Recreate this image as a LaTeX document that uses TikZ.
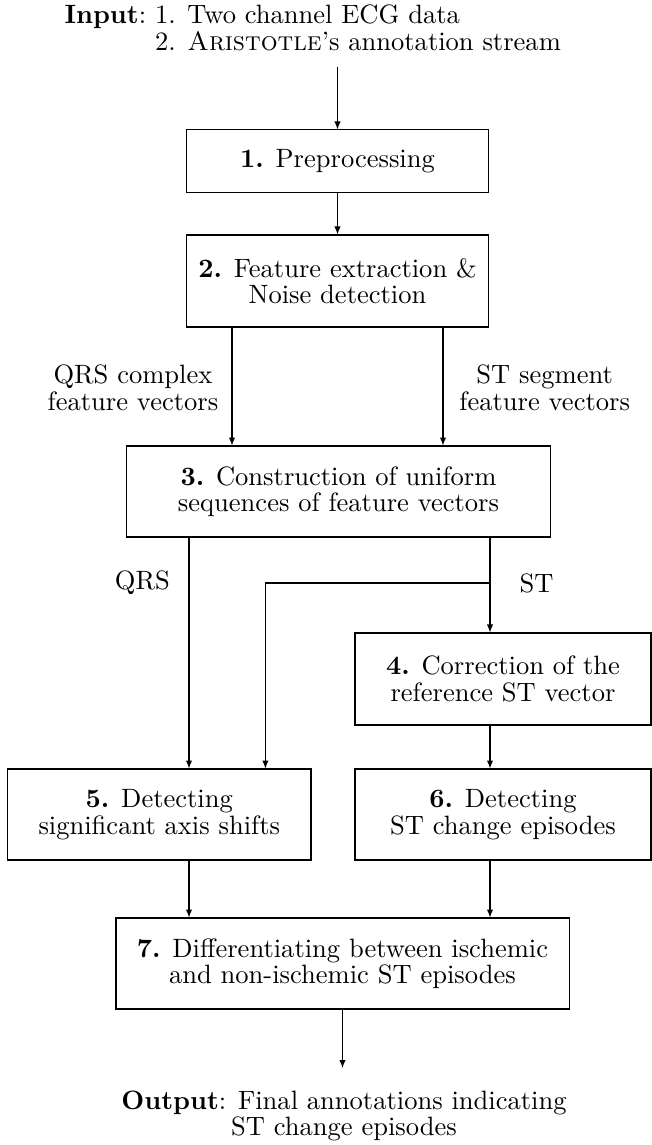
\documentclass[tikz,border=0pt]{standalone}
\usepackage{tikz}
\usetikzlibrary{arrows.meta,positioning}

\begin{document}
\begin{tikzpicture}[x=0.377pt,y=-0.377pt,
  every node/.style={font=\fontsize{10}{10}\selectfont},
  stepbox/.style={draw,align=center,inner sep=0pt},
  lbl/.style={align=center,inner sep=0pt},
  arr/.style={-{Latex[length=3pt,width=2.4pt]}}]
\useasboundingbox (0,0) rectangle (652,1145);

% 输入
\node[anchor=north west,inner sep=0pt] (input) at (64,4) {\begin{tabular}{@{}l@{\ }l@{}}
\textbf{Input}: & 1. Two channel ECG data\\
 & 2. \textsc{Aristotle}'s annotation stream
\end{tabular}};

% 处理步骤
\node[stepbox,minimum width=114.2pt,minimum height=23.4pt] (prep) at (337.5,161) {\textbf{1.} Preprocessing};
\node[stepbox,minimum width=114.2pt,minimum height=34.7pt] (feat) at (337.5,281) {\textbf{2.} Feature extraction \&\\ Noise detection};
\node[stepbox,minimum width=159.5pt,minimum height=34.3pt] (seq) at (338.5,491.5) {\textbf{3.} Construction of uniform\\ sequences of feature vectors};
\node[stepbox,minimum width=111.6pt,minimum height=34.7pt] (corr) at (503,679) {\textbf{4.} Correction of the\\ reference ST vector};
\node[stepbox,minimum width=114.4pt,minimum height=34.3pt] (axis) at (159.3,814.5) {\textbf{5.} Detecting\\ significant axis shifts};
\node[stepbox,minimum width=111.6pt,minimum height=34.3pt] (episode) at (503,814.5) {\textbf{6.} Detecting\\ ST change episodes};
\node[stepbox,minimum width=170.8pt,minimum height=34.3pt] (diff) at (342.5,963.5) {\textbf{7.} Differentiating between ischemic\\ and non-ischemic ST episodes};

% 输出
\node[lbl,anchor=north] (output) at (344,1090) {\textbf{Output}: Final annotations indicating\\ ST change episodes};

% 分支点
\coordinate (cqrs) at (232,388);
\coordinate (cst) at (443,388);
\coordinate (qrs) at (189,583);
\coordinate (st) at (490,583);

% 连接线
\draw[arr,shorten <=3pt] (prep.north |- input.south) -- (prep.north);
\draw[arr] (prep) -- (feat);
\draw[arr] (feat.south -| cqrs) -- (seq.north -| cqrs);
\draw[arr] (feat.south -| cst) -- (seq.north -| cst);
\draw[arr] (seq.south -| qrs) -- (axis.north -| qrs);
\draw (seq.south -| st) -- (st);
\draw[arr] (st) -- (corr.north -| st);
\draw[arr] (st) -| ([xshift=40pt]axis.north);
\draw[arr] (corr.south -| st) -- (episode.north -| st);
\draw[arr] (axis.south -| qrs) -- (diff.north -| qrs);
\draw[arr] (episode.south -| st) -- (diff.north -| st);
\draw[arr,shorten >=8.3pt] (diff.south) -- (diff.south |- output.north);

% 标注
\node[lbl,left=5pt of cqrs] (lqrsf) {QRS complex\\ feature vectors};
\node[lbl,right=6pt of cst] (lstf) {ST segment\\ feature vectors};
\node[lbl,left=7pt of qrs] (lqrs) {QRS};
\node[lbl,right=11pt of st] (lst) {ST};
\end{tikzpicture}
\end{document}
